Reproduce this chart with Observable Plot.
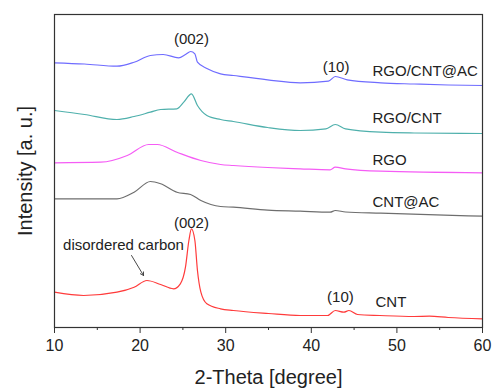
<!DOCTYPE html>
<html><head><meta charset="utf-8">
<script src="https://cdn.jsdelivr.net/npm/d3@7"></script>
<script src="https://cdn.jsdelivr.net/npm/@observablehq/plot@0.6"></script>
<style>body{margin:0;background:#fff}</style>
</head><body><div id="chart"></div>
<script>
// 2-Theta (degree) and intensity (a.u., stacked offsets) for each pattern
const acX  = [10,13.5,17.3,19.3,21.2,22.7,24.5,25.3,25.9,26.4,26.7,27.8,29.4,30.9,34.9,38.7,42,42.8,44.2,48.1,52,56,60];
const acY  = [264.7,263.5,261.3,265.3,272,273,269.7,273,276,273.7,265.3,259,253.7,252,247.7,244.7,246.3,251,247.7,244.7,243.5,242.5,242];
const rcX  = [10,13.5,17.3,19.3,21.2,22.4,24.3,25.1,26,26.7,27.8,29.4,30.9,34.9,38.7,41.7,42.8,44,48.1,52,60];
const rcY  = [217,213,208,211,215.3,218,218.7,225.3,233.7,222,212,208,206,200,197,198.7,203,198.7,195.3,194.5,194];
const rgoX = [10,15.4,18.5,21,22,24.3,27.1,29.4,30.9,34.9,38.7,42.2,42.8,44,48.1,60];
const rgoY = [164.7,165.3,172,183,183,175.3,167,163,162,160,158.7,157.7,160.3,158.7,156.3,154.7];
const caX  = [10,15.4,17.3,19.3,21.2,22.4,24.3,25.9,27.1,29.4,30.9,34.9,38.7,42.2,42.8,44,48.1,60];
const caY  = [128.7,128.7,128.7,135.3,146,143.7,135.3,133,127,121,120.3,117.3,116.3,115.3,117,115.5,114.3,111.3];
const cntX = [10,13.4,17.3,19.3,20.8,22.4,23.9,24.7,25.3,25.7,26,26.4,26.7,27.1,27.8,29.4,30.9,35,38.7,41.9,42.8,43.8,44.4,45.4,48,52,53.8,56,60];
const cntY = [35.3,32,35.3,40.3,47,43,38.7,43.7,60.3,87,98.7,87,57,35.3,23.7,18.7,17,14,12,12,17,15.3,17,13,12,11,11.3,10,8.7];

const seriesNames  = ["RGO/CNT@AC","RGO/CNT","RGO","CNT@AC","CNT"];
const seriesColors = ["#6f6cff","#4fb0ac","#f55cf5","#6e6e6e","#ff3b3b"];
const seriesXs = [acX, rcX, rgoX, caX, cntX];
const seriesYs = [acY, rcY, rgoY, caY, cntY];

// annotation labels
const labelText = ["RGO/CNT@AC","RGO/CNT","RGO","CNT@AC","CNT","(002)","(10)","(002)","(10)","disordered carbon"];
const labelX    = [47.15,47.15,47.15,47.15,47.5,26.0,42.9,26.0,43.4,18.06];
const labelY    = [256,209,167,125,25,288,260,104,30,82];
const labelAnchor = ["start","start","start","start","start","middle","middle","middle","middle","middle"];

const arrowPts = [{x1:19.0, y1:72, x2:20.4, y2:52}];
const majorTicks = [10,20,30,40,50,60];
const minorTicks = [15,25,35,45,55];

const rows = seriesNames.flatMap((name, i) =>
  seriesXs[i].map((x, j) => ({name, x, y: seriesYs[i][j]})));
const labels = labelText.map((t, i) => ({t, x: labelX[i], y: labelY[i], a: labelAnchor[i]}));

const font = "'Liberation Sans', Arial, Helvetica, sans-serif";
const chart = Plot.plot({
  width: 493, height: 389,
  marginLeft: 54, marginRight: 11, marginTop: 14, marginBottom: 62,
  x: {domain: [10, 60]},
  y: {domain: [0, 313], axis: null},
  color: {domain: seriesNames, range: seriesColors},
  style: {fontFamily: font, background: "#fff", color: "#222"},
  marks: [
    Plot.line(rows, {x: "x", y: "y", z: "name", stroke: "name", strokeWidth: 1.2, curve: "monotone-x"}),
    Plot.text(labels.filter(d => d.a === "start"), {x: "x", y: "y", text: "t", textAnchor: "start", fontSize: 15, fill: "#222"}),
    Plot.text(labels.filter(d => d.a === "middle"), {x: "x", y: "y", text: "t", textAnchor: "middle", fontSize: 15, fill: "#222"}),
    Plot.arrow(arrowPts, {x1: "x1", y1: "y1", x2: "x2", y2: "y2", stroke: "#333", strokeWidth: 0.9, headLength: 6}),
    Plot.axisX({ticks: minorTicks, tickSize: 3, text: null, stroke: "#333"}),
    Plot.axisX({ticks: majorTicks, tickSize: 6, tickPadding: 6, fontSize: 16, stroke: "#333", fill: "#222", label: null, tickFormat: d => String(d)}),
    Plot.frame({stroke: "#333", strokeWidth: 1.2}),
    Plot.text(["2-Theta [degree]"], {frameAnchor: "bottom", dy: 50, lineAnchor: "middle", fontSize: 20, fill: "#222"}),
    Plot.text(["Intensity [a. u.]"], {frameAnchor: "left", dx: -29, rotate: -90, textAnchor: "middle", lineAnchor: "middle", fontSize: 20, fill: "#222"})
  ]
});
document.getElementById("chart").appendChild(chart);
</script>
</body></html>
